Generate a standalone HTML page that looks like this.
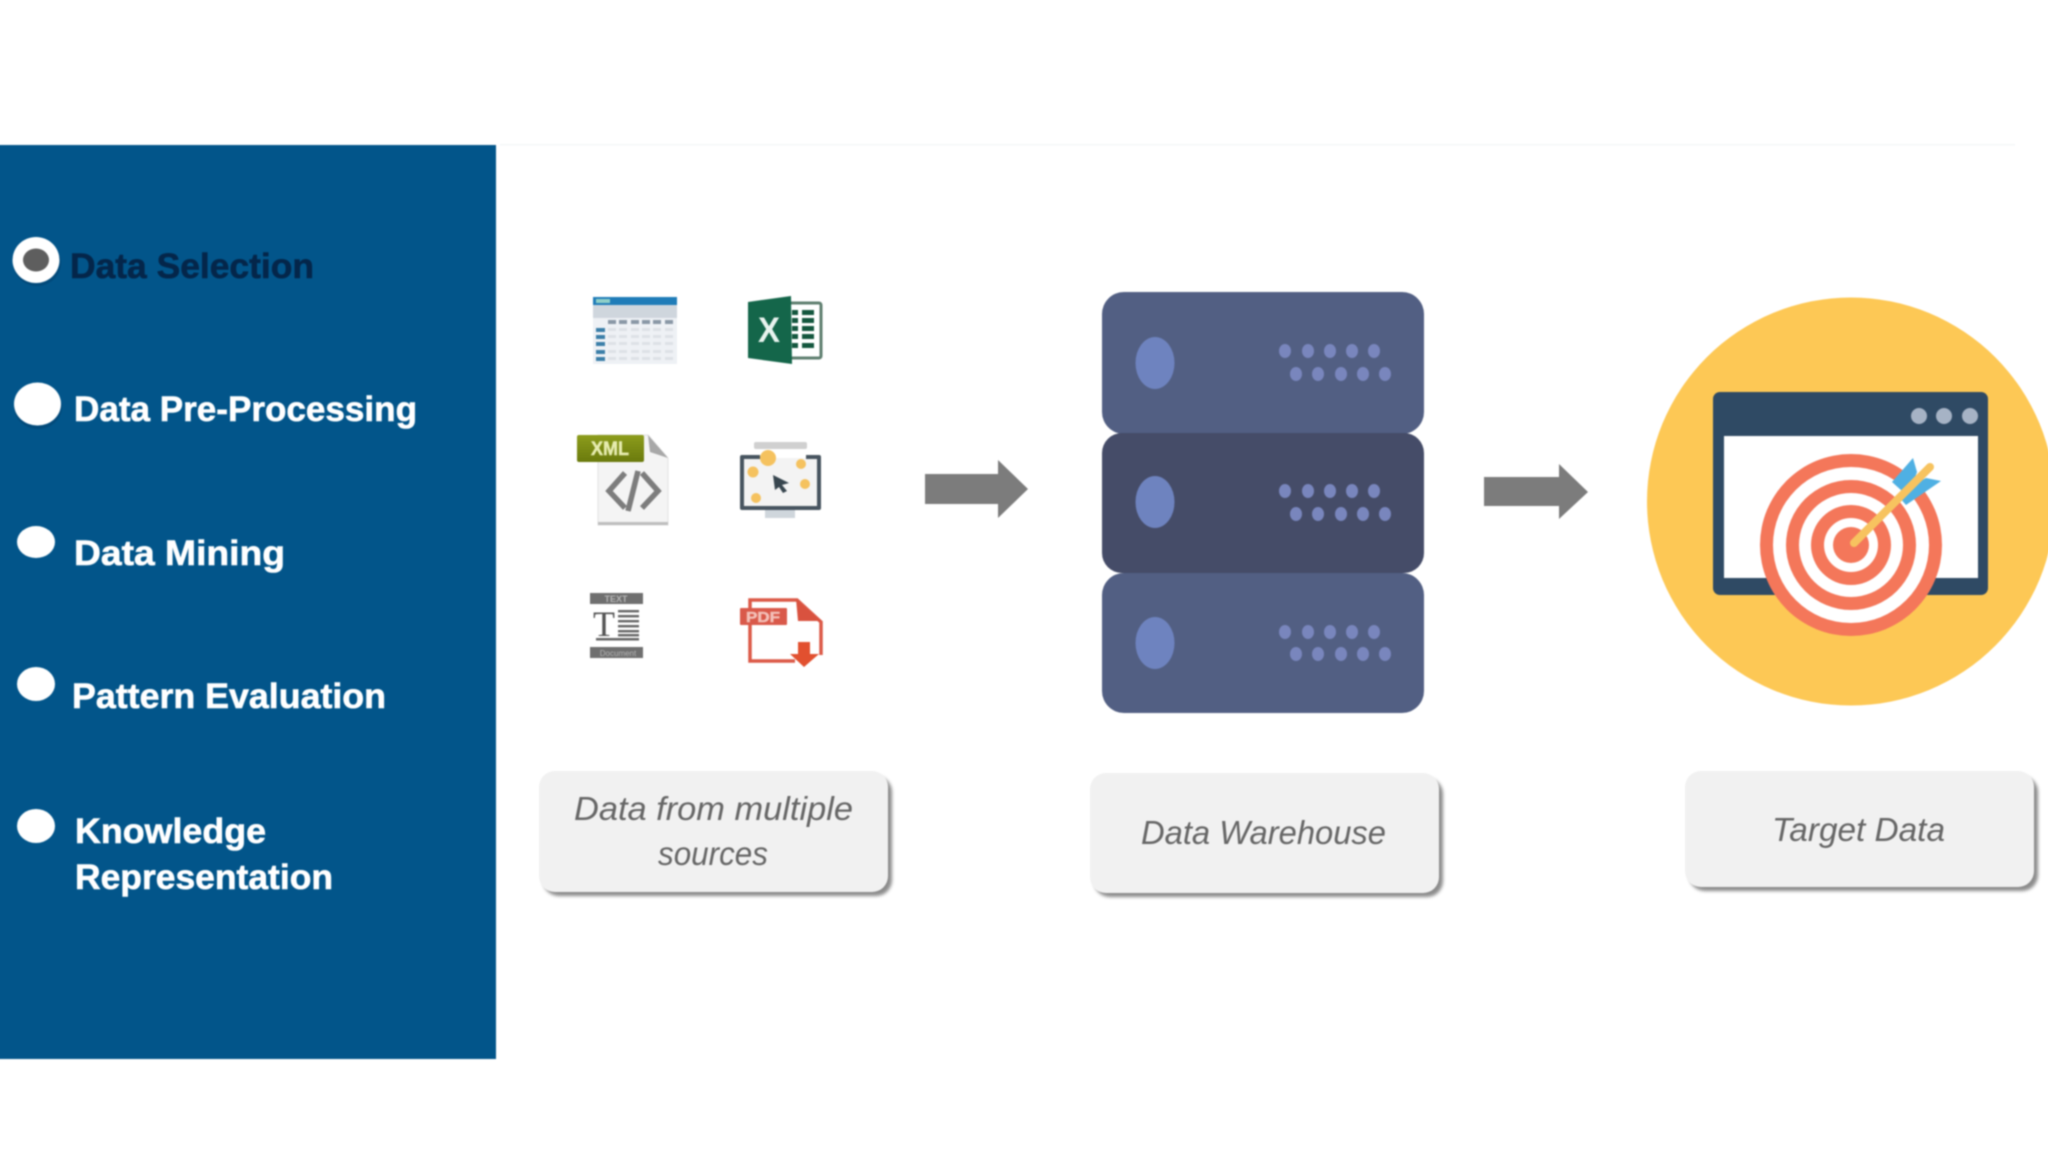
<!DOCTYPE html>
<html lang="en">
<head>
<meta charset="utf-8">
<title>Data Selection</title>
<style>
html,body{margin:0;padding:0;background:#fff;width:2048px;height:1152px;overflow:hidden}
svg{display:block}
.all{filter:blur(.8px)}
.m{font-family:"Liberation Sans",sans-serif;font-weight:700;font-size:35px;fill:#fff;stroke:#fff;stroke-width:.6px}
.c{font-family:"Liberation Sans",sans-serif;font-style:italic;font-size:33px;fill:#666}
.s{filter:blur(1.6px)}
</style>
</head>
<body>
<svg width="2048" height="1152" viewBox="0 0 2048 1152" xmlns="http://www.w3.org/2000/svg">
<defs>
<linearGradient id="xg" x1="0" y1="0" x2="0" y2="1"><stop offset="0" stop-color="#8c9c1c"/><stop offset="1" stop-color="#6a7a0c"/></linearGradient>
</defs>
<g class="all">
<rect x="-20" y="-20" width="2088" height="1192" fill="#fff"/>
<rect x="500" y="144" width="1515" height="1.5" fill="#f3f6f8"/>

<!-- Left panel -->
<rect x="-20" y="145" width="516" height="914" fill="#02558a"/>
<ellipse cx="37" cy="263" rx="24" ry="23" fill="#01406c" opacity=".5"/>
<ellipse cx="36" cy="260" rx="23.5" ry="23" fill="#fff"/>
<ellipse cx="36" cy="260" rx="13" ry="11.5" fill="#5e5e5e"/>
<ellipse cx="38" cy="407" rx="24" ry="22" fill="#01406c" opacity=".5"/>
<ellipse cx="37.5" cy="404" rx="23.5" ry="21.5" fill="#fff"/>
<ellipse cx="36" cy="542" rx="19" ry="16" fill="#fff"/>
<ellipse cx="36" cy="684" rx="19" ry="17" fill="#fff"/>
<ellipse cx="36" cy="826" rx="19" ry="17" fill="#fff"/>
<text class="m" x="70" y="278" textLength="244" lengthAdjust="spacingAndGlyphs" style="fill:#04264a;stroke:#04264a">Data Selection</text>
<text class="m" x="74" y="421" textLength="343" lengthAdjust="spacingAndGlyphs">Data Pre-Processing</text>
<text class="m" x="74" y="565" textLength="211" lengthAdjust="spacingAndGlyphs">Data Mining</text>
<text class="m" x="72" y="708" textLength="314" lengthAdjust="spacingAndGlyphs">Pattern Evaluation</text>
<text class="m" x="75" y="843" textLength="191" lengthAdjust="spacingAndGlyphs">Knowledge</text>
<text class="m" x="75" y="889" textLength="258" lengthAdjust="spacingAndGlyphs">Representation</text>

<!-- Table icon -->
<rect x="593" y="297" width="84" height="67" fill="#eef1f5"/>
<rect x="593" y="297" width="84" height="8" fill="#1f7cb8"/>
<rect x="596" y="299" width="14" height="4" fill="#8fd0c8"/>
<rect x="593" y="305" width="84" height="13" fill="#cfd6dd"/>
<g fill="#8a98a6">
<rect x="608" y="320" width="8" height="4"/><rect x="619" y="320" width="8" height="4"/><rect x="631" y="320" width="8" height="4"/><rect x="642" y="320" width="8" height="4"/><rect x="653" y="320" width="8" height="4"/><rect x="665" y="320" width="8" height="4"/>
</g>
<g fill="#3b7fa8">
<rect x="596" y="328" width="9" height="4"/><rect x="596" y="335" width="9" height="4"/><rect x="596" y="342" width="9" height="4"/><rect x="596" y="350" width="9" height="4"/><rect x="596" y="357" width="9" height="4"/>
</g>
<g fill="#dde1e6">
<rect x="608" y="328" width="8" height="3"/><rect x="619" y="328" width="8" height="3"/><rect x="631" y="328" width="8" height="3"/><rect x="642" y="328" width="8" height="3"/><rect x="653" y="328" width="8" height="3"/><rect x="665" y="328" width="8" height="3"/>
<rect x="608" y="335" width="8" height="3"/><rect x="619" y="335" width="8" height="3"/><rect x="631" y="335" width="8" height="3"/><rect x="642" y="335" width="8" height="3"/><rect x="653" y="335" width="8" height="3"/><rect x="665" y="335" width="8" height="3"/>
<rect x="608" y="342" width="8" height="3"/><rect x="619" y="342" width="8" height="3"/><rect x="631" y="342" width="8" height="3"/><rect x="642" y="342" width="8" height="3"/><rect x="653" y="342" width="8" height="3"/><rect x="665" y="342" width="8" height="3"/>
<rect x="608" y="350" width="8" height="3"/><rect x="619" y="350" width="8" height="3"/><rect x="631" y="350" width="8" height="3"/><rect x="642" y="350" width="8" height="3"/><rect x="653" y="350" width="8" height="3"/><rect x="665" y="350" width="8" height="3"/>
<rect x="608" y="357" width="8" height="3"/><rect x="619" y="357" width="8" height="3"/><rect x="631" y="357" width="8" height="3"/><rect x="642" y="357" width="8" height="3"/><rect x="653" y="357" width="8" height="3"/><rect x="665" y="357" width="8" height="3"/>
</g>

<!-- Excel icon -->
<rect x="789" y="303" width="32" height="55" rx="2" fill="#fff" stroke="#5f7f70" stroke-width="3"/>
<g fill="#14573e">
<rect x="792" y="310" width="6" height="5"/><rect x="802" y="310" width="12" height="5"/>
<rect x="792" y="318" width="6" height="5"/><rect x="802" y="318" width="12" height="5"/>
<rect x="792" y="326" width="6" height="5"/><rect x="802" y="326" width="12" height="5"/>
<rect x="792" y="334" width="6" height="5"/><rect x="802" y="334" width="12" height="5"/>
<rect x="792" y="343" width="6" height="5"/><rect x="802" y="343" width="12" height="5"/>
</g>
<polygon points="748,302 791,296 792,364 748,358" fill="#14664a"/>
<text x="769" y="342" text-anchor="middle" font-family="Liberation Sans, sans-serif" font-weight="700" font-size="35" fill="#e8f3ee" textLength="22" lengthAdjust="spacingAndGlyphs">X</text>

<!-- XML icon -->
<path d="M598 435H648L668 458V525H598Z" fill="#f4f4f4" stroke="#e2e2e2" stroke-width="1"/>
<rect x="598" y="522" width="70" height="3" fill="#bfbfbf"/>
<polygon points="648,435 668,458 650,452" fill="#a8a8a8"/>
<rect x="577" y="435" width="67" height="27" rx="2" fill="url(#xg)"/>
<text x="610" y="455" text-anchor="middle" font-family="Liberation Sans, sans-serif" font-weight="700" font-size="19" fill="#e6ecb0" stroke="#e6ecb0" stroke-width=".5" textLength="38" lengthAdjust="spacingAndGlyphs">XML</text>
<g fill="none" stroke="#7d7d7d" stroke-width="5.5">
<path d="M625 473 L609 491 L625 508"/>
<path d="M642 473 L658 491 L642 508"/>
<path d="M638 471 L628 511"/>
</g>

<!-- Monitor icon -->
<rect x="765" y="509" width="30" height="9" fill="#cfd6dc"/>
<rect x="742" y="458" width="78" height="50" fill="#f3f3f3"/>
<path d="M760 457H742V508H819V457H806" fill="none" stroke="#47545f" stroke-width="4" stroke-linejoin="round"/>
<rect x="754" y="442" width="53" height="7" rx="2" fill="#d0d0d0"/>
<g fill="#f5c25f">
<circle cx="768" cy="458" r="8"/><circle cx="801" cy="464" r="5"/><circle cx="753" cy="472" r="5.5"/><circle cx="805" cy="484" r="5"/><circle cx="756" cy="498" r="5"/>
</g>
<polygon points="773,475 789,483 782,485 787,491 783,493 779,487 775,490" fill="#38464f"/>

<!-- Text doc icon -->
<rect x="590" y="593" width="53" height="11" fill="#6f6f6f"/>
<text x="616" y="602" text-anchor="middle" font-family="Liberation Sans, sans-serif" font-weight="700" font-size="9" fill="#b5b5b5">TEXT</text>
<text x="604" y="636" text-anchor="middle" font-family="Liberation Serif, serif" font-size="36" fill="#555">T</text>
<g fill="#666">
<rect x="618" y="610" width="21" height="2.4"/><rect x="618" y="615" width="21" height="2.4"/><rect x="618" y="620" width="21" height="2.4"/><rect x="618" y="625" width="21" height="2.4"/><rect x="618" y="630" width="21" height="2.4"/><rect x="618" y="634" width="21" height="2.4"/>
<rect x="596" y="638" width="43" height="2.5"/>
</g>
<rect x="590" y="647" width="53" height="11" fill="#6f6f6f"/>
<text x="618" y="656" text-anchor="middle" font-family="Liberation Sans, sans-serif" font-size="8" fill="#b5b5b5">Document</text>

<!-- PDF icon -->
<path d="M750 610V600H797L821 622V655M795 661H750V625" fill="#fff" stroke="#dc5a48" stroke-width="3.5"/>
<polygon points="796,599 821,621 798,621" fill="#d9523f"/>
<rect x="740" y="608" width="47" height="17" rx="1" fill="#d9594a"/>
<text x="763" y="622" text-anchor="middle" font-family="Liberation Sans, sans-serif" font-weight="700" font-size="15" fill="#f3c0b8" stroke="#f3c0b8" stroke-width=".5" textLength="34" lengthAdjust="spacingAndGlyphs">PDF</text>
<polygon points="798,642 810,642 810,654 819,654 804,667 790,654 798,654" fill="#e2502f"/>

<!-- Arrows -->
<polygon points="925,474 998,474 998,460 1028,489 998,518 998,504 925,504" fill="#7c7c7c"/>
<polygon points="1484,477 1559,477 1559,464 1588,492 1559,519 1559,506 1484,506" fill="#7c7c7c"/>

<!-- Server -->
<rect x="1102" y="292" width="322" height="142" rx="22" fill="#525f83"/>
<rect x="1102" y="573" width="322" height="140" rx="22" fill="#525f83"/>
<rect x="1102" y="433" width="322" height="140" rx="20" fill="#454c68"/>
<g fill="#6e83bf">
<ellipse cx="1155" cy="363" rx="19.5" ry="26"/><ellipse cx="1155" cy="502" rx="19.5" ry="26"/><ellipse cx="1155" cy="643" rx="19.5" ry="26"/>
</g>
<g fill="#7986bd">
<ellipse cx="1285" cy="351" rx="6" ry="7"/><ellipse cx="1308" cy="351" rx="6" ry="7"/><ellipse cx="1330" cy="351" rx="6" ry="7"/><ellipse cx="1352" cy="351" rx="6" ry="7"/><ellipse cx="1374" cy="351" rx="6" ry="7"/>
<ellipse cx="1296" cy="374" rx="6" ry="7"/><ellipse cx="1318" cy="374" rx="6" ry="7"/><ellipse cx="1341" cy="374" rx="6" ry="7"/><ellipse cx="1363" cy="374" rx="6" ry="7"/><ellipse cx="1385" cy="374" rx="6" ry="7"/>
<ellipse cx="1285" cy="491" rx="6" ry="7"/><ellipse cx="1308" cy="491" rx="6" ry="7"/><ellipse cx="1330" cy="491" rx="6" ry="7"/><ellipse cx="1352" cy="491" rx="6" ry="7"/><ellipse cx="1374" cy="491" rx="6" ry="7"/>
<ellipse cx="1296" cy="514" rx="6" ry="7"/><ellipse cx="1318" cy="514" rx="6" ry="7"/><ellipse cx="1341" cy="514" rx="6" ry="7"/><ellipse cx="1363" cy="514" rx="6" ry="7"/><ellipse cx="1385" cy="514" rx="6" ry="7"/>
<ellipse cx="1285" cy="632" rx="6" ry="7"/><ellipse cx="1308" cy="632" rx="6" ry="7"/><ellipse cx="1330" cy="632" rx="6" ry="7"/><ellipse cx="1352" cy="632" rx="6" ry="7"/><ellipse cx="1374" cy="632" rx="6" ry="7"/>
<ellipse cx="1296" cy="654" rx="6" ry="7"/><ellipse cx="1318" cy="654" rx="6" ry="7"/><ellipse cx="1341" cy="654" rx="6" ry="7"/><ellipse cx="1363" cy="654" rx="6" ry="7"/><ellipse cx="1385" cy="654" rx="6" ry="7"/>
</g>

<!-- Target -->
<circle cx="1851" cy="501.5" r="204" fill="#fdc855"/>
<rect x="1713" y="392" width="275" height="203" rx="7" fill="#2f4a64"/>
<rect x="1724" y="436" width="254" height="142" fill="#fff"/>
<circle cx="1919" cy="416" r="8" fill="#a6b3c5"/><circle cx="1944" cy="416" r="8" fill="#a6b3c5"/><circle cx="1970" cy="416" r="8" fill="#a6b3c5"/>
<circle cx="1851" cy="545" r="91" fill="#f4775a"/>
<circle cx="1851" cy="545" r="78" fill="#fff"/>
<circle cx="1851" cy="545" r="65" fill="#f4775a"/>
<circle cx="1851" cy="545" r="52" fill="#fff"/>
<circle cx="1851" cy="545" r="40" fill="#f4775a"/>
<circle cx="1851" cy="545" r="27" fill="#fff"/>
<circle cx="1851" cy="545" r="18" fill="#f4775a"/>
<polygon points="1892,482 1913,458 1917,472 1908,497 1902,491" fill="#4fb0e3"/>
<polygon points="1906,505 1941,481 1926,478 1902,491 1899,497" fill="#4fb0e3"/>
<line x1="1854" y1="543" x2="1930" y2="467" stroke="#f7c35f" stroke-width="8" stroke-linecap="round"/>

<!-- Caption boxes -->
<rect class="s" x="543" y="776" width="349" height="120" rx="16" fill="#8c8c8c"/>
<rect x="539" y="771" width="349" height="121" rx="16" fill="#f1f1f1"/>
<rect class="s" x="1094" y="778" width="349" height="119" rx="16" fill="#8c8c8c"/>
<rect x="1090" y="773" width="349" height="120" rx="16" fill="#f1f1f1"/>
<rect class="s" x="1689" y="776" width="349" height="115" rx="16" fill="#8c8c8c"/>
<rect x="1685" y="771" width="349" height="116" rx="16" fill="#f1f1f1"/>
<text class="c" x="574" y="820" textLength="279" lengthAdjust="spacingAndGlyphs">Data from multiple</text>
<text class="c" x="658" y="865" textLength="110" lengthAdjust="spacingAndGlyphs">sources</text>
<text class="c" x="1141" y="844" textLength="245" lengthAdjust="spacingAndGlyphs">Data Warehouse</text>
<text class="c" x="1772" y="841" textLength="173" lengthAdjust="spacingAndGlyphs">Target Data</text>
</g>
</svg>
</body>
</html>
